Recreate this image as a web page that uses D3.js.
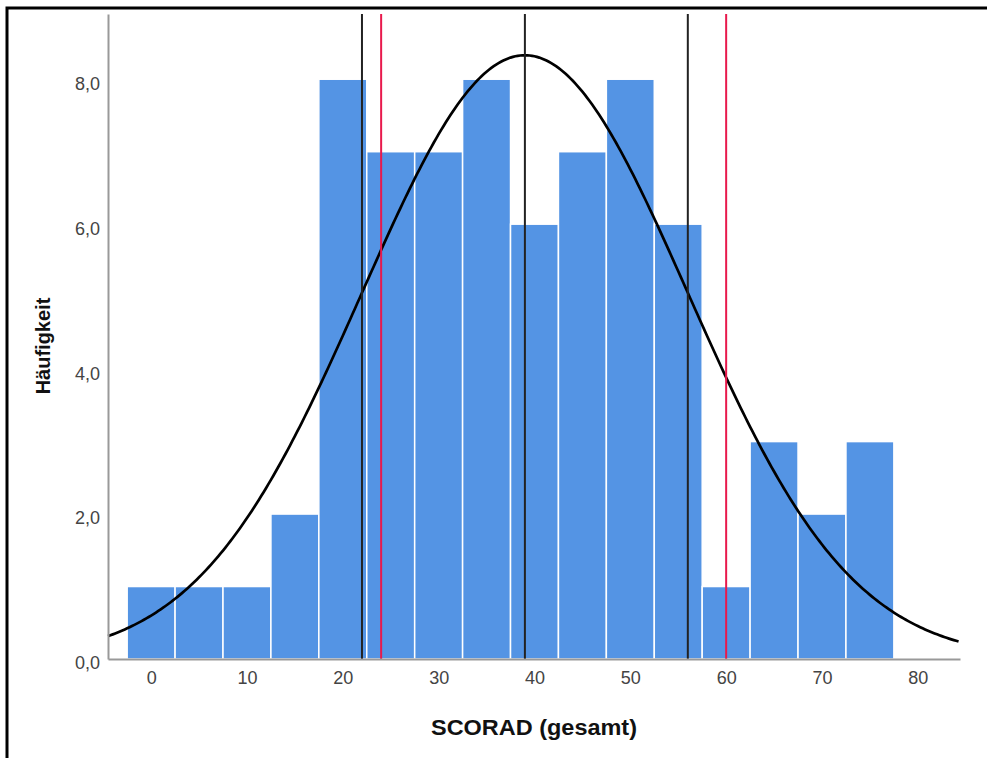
<!DOCTYPE html>
<html>
<head>
<meta charset="utf-8">
<script src="https://cdn.jsdelivr.net/npm/d3@7"></script>
<style>
  body { margin: 0; background: #fff; }
  svg { display: block; }
</style>
</head>
<body>
<div id="chart"></div>
<script>
// histogram bins (center of each 5-wide bin) and counts
var binCenters = [0, 5, 10, 15, 20, 25, 30, 35, 40, 45, 50, 55, 60, 65, 70, 75];
var counts     = [1, 1, 1, 2, 8, 7, 7, 8, 6, 7, 8, 6, 1, 3, 2, 3];
var binWidth = 5;

// normal curve parameters
var mean = 39.0;
var sd = 17.0;

// reference lines
var blackLines = [22, 39, 56];
var redLines = [24, 60];

var xTicks = [0, 10, 20, 30, 40, 50, 60, 70, 80];
var yTicks = [0, 2, 4, 6, 8];

var width = 987, height = 758;
// plot area edges (don't use "top" - it's window.top)
var plotLeft = 108, plotRight = 960, plotTop = 14, plotBottom = 659;

var x = d3.scaleLinear().domain([-4.5, 84.4]).range([plotLeft, plotRight]);
var y = d3.scaleLinear().domain([0, 8.9]).range([plotBottom, plotTop]);

var svg = d3.select("#chart").append("svg")
  .attr("width", width)
  .attr("height", height)
  .attr("font-family", "Liberation Sans, Arial, sans-serif");

// outer frame (runs off the right/bottom edge like the screenshot)
svg.append("rect")
  .attr("x", 7).attr("y", 8)
  .attr("width", 1000).attr("height", 800)
  .attr("fill", "none")
  .attr("stroke", "#000")
  .attr("stroke-width", 3);

// bars
var total = d3.sum(counts);
svg.append("g")
  .selectAll("rect")
  .data(binCenters)
  .join("rect")
    .attr("x", d => x(d - binWidth / 2))
    .attr("y", (d, i) => y(counts[i]))
    .attr("width", x(binWidth) - x(0))
    .attr("height", (d, i) => y(0) - y(counts[i]))
    .attr("fill", "#5494e4")
    .attr("stroke", "#fff")
    .attr("stroke-width", 1.5);

// normal curve
var pts = d3.range(-4.5, 84.5, 0.25);
var line = d3.line()
  .x(d => x(d))
  .y(d => y(total * binWidth / (sd * Math.sqrt(2 * Math.PI)) * Math.exp(-0.5 * Math.pow((d - mean) / sd, 2))));

svg.append("path")
  .datum(pts)
  .attr("fill", "none")
  .attr("stroke", "#000")
  .attr("stroke-width", 2.7)
  .attr("d", line);

// vertical reference lines
svg.append("g")
  .selectAll("line")
  .data(blackLines)
  .join("line")
    .attr("x1", d => x(d)).attr("x2", d => x(d))
    .attr("y1", plotTop).attr("y2", plotBottom)
    .attr("stroke", "#222")
    .attr("stroke-width", 2);

svg.append("g")
  .selectAll("line")
  .data(redLines)
  .join("line")
    .attr("x1", d => x(d)).attr("x2", d => x(d))
    .attr("y1", plotTop).attr("y2", plotBottom)
    .attr("stroke", "#e8194c")
    .attr("stroke-width", 2);

// axes
var xAxis = svg.append("g")
  .attr("transform", `translate(0,${plotBottom})`)
  .call(d3.axisBottom(x).tickValues(xTicks).tickSize(0).tickPadding(12));
var yAxis = svg.append("g")
  .attr("transform", `translate(${plotLeft},0)`)
  .call(d3.axisLeft(y).tickValues(yTicks).tickSize(0).tickPadding(8)
    .tickFormat(d => d3.format(".1f")(d).replace(".", ",")));

[xAxis, yAxis].forEach(a => {
  a.select(".domain").attr("stroke", "#999").attr("stroke-width", 2);
  a.selectAll("text").attr("fill", "#444").attr("font-size", 18);
});
// SPSS puts the y labels a little below the tick
yAxis.selectAll("text").attr("dy", "0.55em");

// axis titles
svg.append("text")
  .attr("x", 534).attr("y", 735)
  .attr("text-anchor", "middle")
  .attr("font-size", 22)
  .attr("font-weight", "bold")
  .attr("fill", "#111")
  .attr("textLength", 206)
  .attr("lengthAdjust", "spacingAndGlyphs")
  .text("SCORAD (gesamt)");

svg.append("text")
  .attr("transform", "translate(50,346) rotate(-90)")
  .attr("text-anchor", "middle")
  .attr("font-size", 20)
  .attr("font-weight", "bold")
  .attr("fill", "#111")
  .text("Häufigkeit");
</script>
</body>
</html>
